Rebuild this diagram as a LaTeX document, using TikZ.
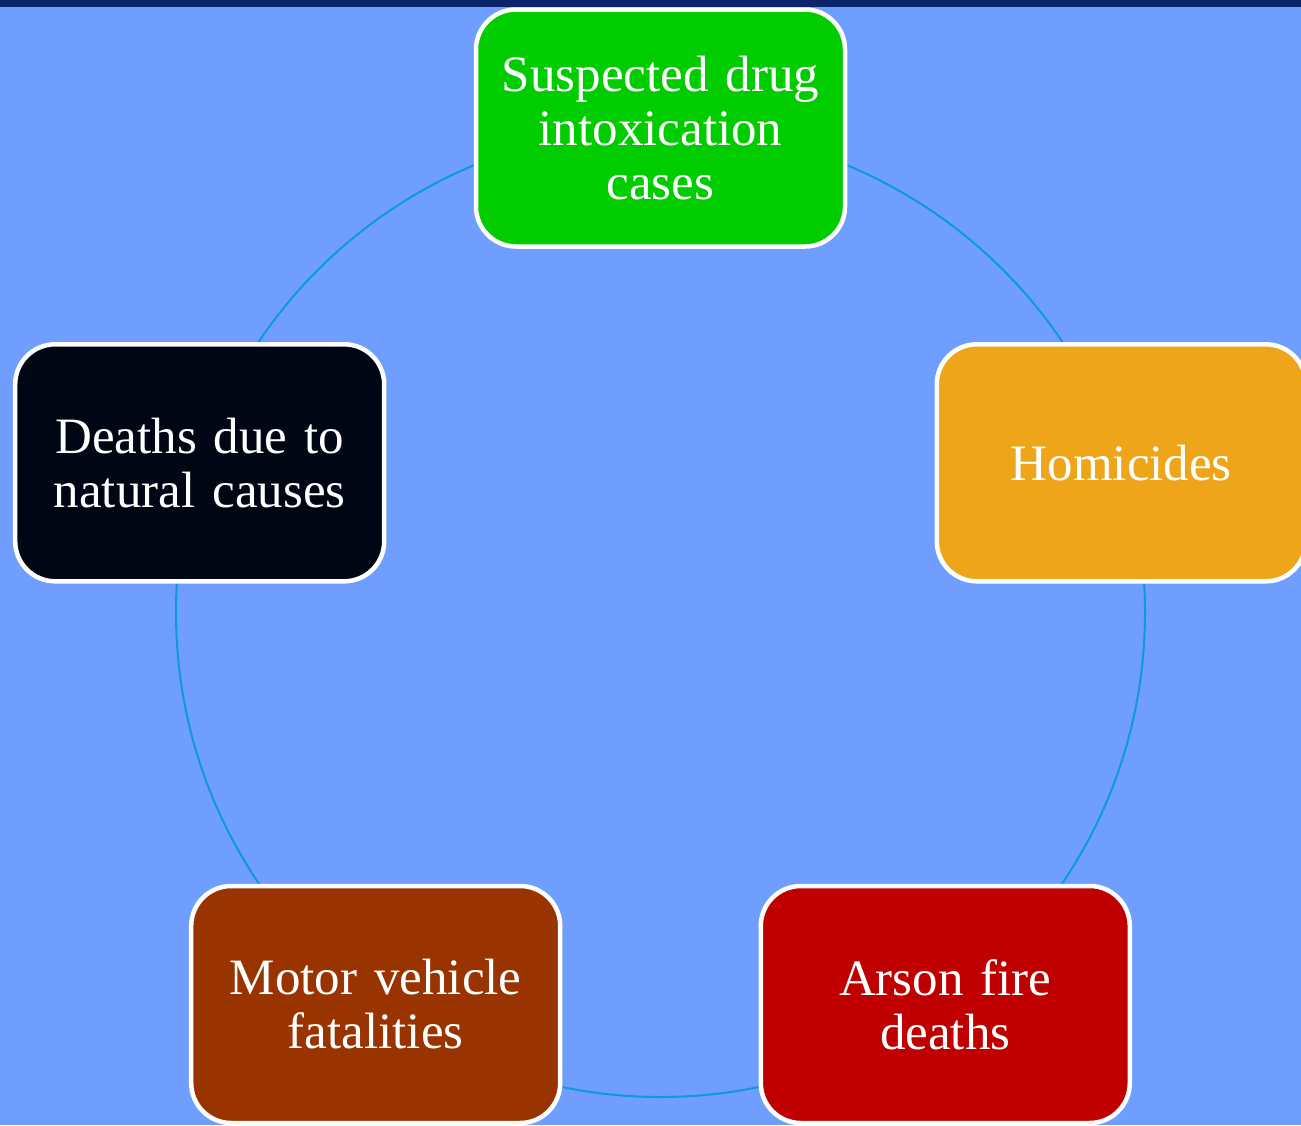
\documentclass[tikz,border=0pt]{standalone}
\usepackage{fontspec}
\setmainfont[WordSpace=0.8]{Liberation Serif}
\usetikzlibrary{backgrounds}
\definecolor{bgblue}{HTML}{6F9EFF}
\definecolor{barblue}{HTML}{0A2569}
\definecolor{ringblue}{HTML}{0D9AD5}
\definecolor{cgreen}{HTML}{00CC00}
\definecolor{corange}{HTML}{EFA51A}
\definecolor{cblack}{HTML}{000614}
\definecolor{cbrown}{HTML}{993300}
\definecolor{cred}{HTML}{C00000}
\tikzset{
  catbox/.style={draw=white, line width=4.5pt, rounded corners=40pt,
    minimum width=369pt, minimum height=237pt, text width=340pt, align=center,
    text=white, font=\fontsize{51pt}{54pt}\selectfont, inner sep=0pt},
  ring/.style={draw=ringblue, line width=2pt}
}
\begin{document}
\begin{tikzpicture}[x=1pt,y=-1pt]
\useasboundingbox (0,0) rectangle (1301,1125);
\clip (0,0) rectangle (1301,1125);
\coordinate (c) at (660.5,612.5);
\node[catbox, fill=cgreen] (drug) at (660.5,128) {Suspected drug\\intoxication\\cases};
\node[catbox, fill=corange] (hom) at (1121.3,462.8) {Homicides};
\node[catbox, fill=cred] (arson) at (945.3,1004.5) {Arson fire\\deaths};
\node[catbox, fill=cbrown] (motor) at (375.7,1004.5) {Motor vehicle\\fatalities};
\node[catbox, fill=cblack] (nat) at (199.7,462.8) {Deaths due to\\natural causes};
\begin{scope}[on background layer]
\fill[bgblue] (0,0) rectangle (1301,1125);
\fill[barblue] (0,0) rectangle (1301,7);
\draw[ring] (c) circle[radius=484.5pt];
\end{scope}
\end{tikzpicture}
\end{document}
